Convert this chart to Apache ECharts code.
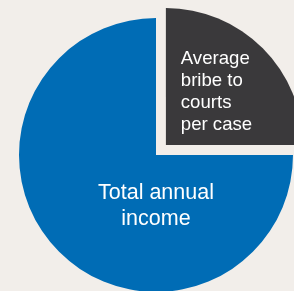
<!DOCTYPE html>
<html>
<head>
<meta charset="utf-8">
<script src="https://cdn.jsdelivr.net/npm/echarts@6/dist/echarts.min.js"></script>
<style>
  html, body { margin: 0; padding: 0; background: #f2eeea; }
  #main { width: 294px; height: 291px; }
</style>
</head>
<body>
<div id="main"></div>
<script>
let slice_names = ['Average\nbribe to\ncourts\nper case', 'Total annual\nincome'];
let slice_values = [25, 75];
let slice_colors = ['#3a393b', '#006cb5'];

let dom = document.getElementById('main');
let myChart = echarts.init(dom, null, { renderer: 'canvas' });

let data = slice_names.map(function (name, i) {
  let item = {
    name: name,
    value: slice_values[i],
    itemStyle: { color: slice_colors[i] }
  };
  if (i === 0) {
    // exploded wedge, text left aligned inside
    item.selected = true;
    item.label = {
      position: 'inside',
      formatter: function (p) {
        return p.name.split('\n').map(function (s) { return '{l|' + s + '}'; }).join('\n');
      },
      rich: {
        l: { align: 'left', fontSize: 18.6, lineHeight: 22, color: '#fff', fontFamily: 'Liberation Sans' }
      }
    };
  } else {
    item.label = {
      position: 'center',
      fontSize: 21.5,
      lineHeight: 26,
      color: '#fff',
      fontFamily: 'Liberation Sans'
    };
  }
  return item;
});

let option = {
  backgroundColor: '#f2eeea',
  animation: false,
  series: [{
    type: 'pie',
    center: [156, 155],
    radius: 137,
    startAngle: 90,
    clockwise: true,
    selectedMode: 'multiple',
    selectedOffset: 14,
    avoidLabelOverlap: false,
    emphasis: { disabled: true },
    labelLine: { show: false },
    label: { show: true },
    labelLayout: function (params) {
      return params.dataIndex === 1 ? { dy: 51 } : { dy: -3 };
    },
    data: data
  }]
};

myChart.setOption(option);
</script>
</body>
</html>
